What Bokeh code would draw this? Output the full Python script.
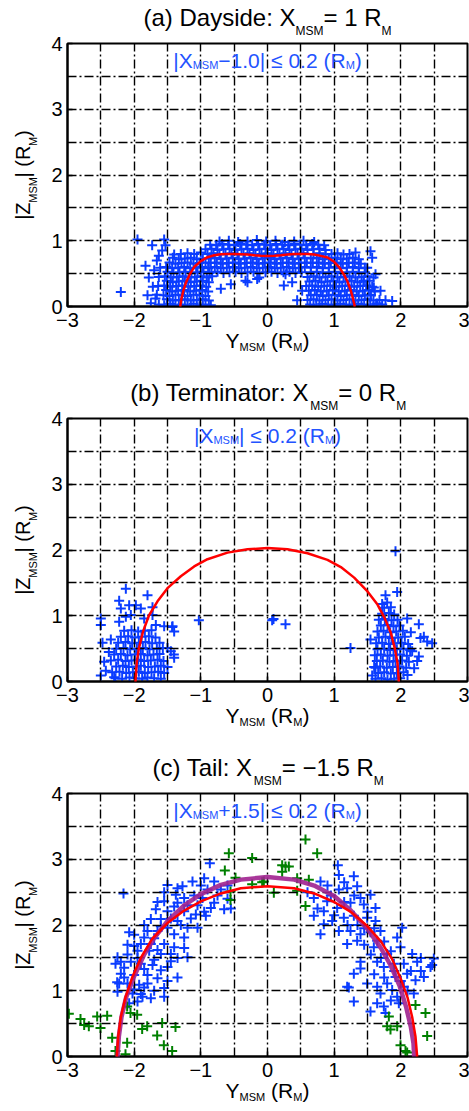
import math
from bokeh.plotting import figure
from bokeh.models import Range1d, FixedTicker, Label, LinearAxis
from bokeh.layouts import column
from bokeh.embed import file_html
from bokeh.resources import INLINE

# ---------------- data ----------------
# panel (a): |X_MSM - 1.0| <= 0.2
a_fringe = [(-1.95,1.02),(-1.55,1.02),(-1.73,0.93),(-1.53,0.93),(-1.63,0.77),(-1.83,0.62),(-2.2,0.22),
            (-1.8,0.17),(-1.78,0.44),(-1.7,0.55),(-1.72,0.3),(-1.75,0.05),(-1.68,0.12),(-1.66,0.7),(-1.58,0.85),
            (-0.70,0.27),(-0.55,0.34),(-0.30,0.37),(-0.125,0.44),(-0.33,0.39),(-0.155,0.42),
            (0.245,0.32),(0.37,0.37),(0.27,0.49),(0.52,0.24),(0.445,0.095),
            (1.545,0.84),(1.57,0.74),(1.495,0.59),(1.62,0.49),(1.445,0.39),(1.595,0.29),(1.695,0.24),
            (1.545,0.17),(1.77,0.095),(1.87,0.085),(1.645,0.045)]
a_left = [(-1.63,0.03),(-1.55,0.02),(-1.46,0.04),(-1.38,0.02),(-1.29,0.03),(-1.2,0.02),(-1.11,0.04),(-1.02,0.02),(-0.93,0.03),(-0.85,0.02),
          (-1.51,0.11),(-1.42,0.09),(-1.33,0.1),(-1.24,0.11),(-1.15,0.09),(-1.06,0.1),(-0.97,0.11),(-0.88,0.09),
          (-1.66,0.18),(-1.56,0.17),(-1.47,0.16),(-1.38,0.18),(-1.29,0.17),(-1.2,0.16),(-1.11,0.18),(-1.02,0.17),(-0.93,0.16),
          (-1.52,0.25),(-1.43,0.23),(-1.34,0.24),(-1.25,0.25),(-1.16,0.23),(-1.07,0.24),(-0.98,0.25),(-0.89,0.23),
          (-1.64,0.31),(-1.55,0.32),(-1.46,0.3),(-1.37,0.31),(-1.28,0.32),(-1.19,0.3),(-1.1,0.31),(-1.01,0.32),(-0.92,0.3),
          (-1.51,0.39),(-1.42,0.37),(-1.33,0.38),(-1.24,0.39),(-1.15,0.37),(-1.06,0.38),(-0.97,0.39),(-0.88,0.37),
          (-1.63,0.45),(-1.54,0.46),(-1.45,0.44),(-1.36,0.45),(-1.27,0.46),(-1.18,0.44),(-1.09,0.45),(-1.0,0.46),(-0.91,0.44),(-0.83,0.46),
          (-1.5,0.53),(-1.41,0.51),(-1.32,0.52),(-1.23,0.53),(-1.14,0.51),(-1.05,0.52),(-0.96,0.53),(-0.87,0.51),
          (-1.61,0.59),(-1.52,0.6),(-1.43,0.58),(-1.34,0.59),(-1.25,0.6),(-1.16,0.58),(-1.07,0.59),(-0.98,0.6),(-0.89,0.58),
          (-1.47,0.67),(-1.38,0.65),(-1.29,0.66),(-1.2,0.67),(-1.11,0.65),(-1.02,0.66),(-0.93,0.67),
          (-1.42,0.74),(-1.33,0.72),(-1.24,0.73),(-1.15,0.74),(-1.06,0.72),(-0.97,0.73),
          (-1.4,0.79),(-1.3,0.8),(-1.2,0.81),(-1.1,0.8),(-1.0,0.82)]
a_top = [(-0.84,0.52),(-0.75,0.53),(-0.66,0.51),(-0.57,0.52),(-0.48,0.53),(-0.39,0.51),(-0.3,0.52),(-0.21,0.53),(-0.12,0.51),(-0.03,0.52),(0.06,0.53),(0.15,0.51),(0.24,0.52),(0.33,0.53),(0.42,0.51),(0.51,0.52),
         (-0.88,0.59),(-0.79,0.6),(-0.7,0.58),(-0.61,0.59),(-0.52,0.6),(-0.43,0.58),(-0.34,0.59),(-0.25,0.6),(-0.16,0.58),(-0.07,0.59),(0.02,0.6),(0.11,0.58),(0.2,0.59),(0.29,0.6),(0.38,0.58),(0.47,0.59),(0.56,0.6),
         (-0.85,0.66),(-0.76,0.67),(-0.67,0.65),(-0.58,0.66),(-0.49,0.67),(-0.4,0.65),(-0.31,0.66),(-0.22,0.67),(-0.13,0.65),(-0.04,0.66),(0.05,0.67),(0.14,0.65),(0.23,0.66),(0.32,0.67),(0.41,0.65),(0.5,0.66),(0.59,0.67),
         (-0.88,0.73),(-0.79,0.74),(-0.7,0.72),(-0.61,0.73),(-0.52,0.74),(-0.43,0.72),(-0.34,0.73),(-0.25,0.74),(-0.16,0.72),(-0.07,0.73),(0.02,0.74),(0.11,0.72),(0.2,0.73),(0.29,0.74),(0.38,0.72),(0.47,0.73),(0.56,0.74),
         (-0.9,0.8),(-0.81,0.81),(-0.72,0.79),(-0.63,0.8),(-0.54,0.81),(-0.45,0.79),(-0.36,0.8),(-0.27,0.81),(-0.18,0.79),(-0.09,0.8),(0.0,0.81),(0.09,0.79),(0.18,0.8),(0.27,0.81),(0.36,0.79),(0.45,0.8),(0.54,0.81),
         (-0.93,0.87),(-0.84,0.88),(-0.75,0.86),(-0.66,0.87),(-0.57,0.88),(-0.48,0.86),(-0.39,0.87),(-0.3,0.88),(-0.21,0.86),(-0.12,0.87),(-0.03,0.88),(0.06,0.86),(0.15,0.87),(0.24,0.88),(0.33,0.86),(0.42,0.87),(0.51,0.88),(0.6,0.86),(0.69,0.87),(0.78,0.88),(0.87,0.86),
         (-0.86,0.94),(-0.77,0.93),(-0.68,0.95),(-0.59,0.94),(-0.5,0.93),(-0.41,0.95),(-0.32,0.94),(-0.23,0.93),(-0.14,0.95),(-0.05,0.94),(0.04,0.93),(0.13,0.95),(0.22,0.94),(0.31,0.93),(0.4,0.95),(0.49,0.94),(0.58,0.93),(0.67,0.95),(0.76,0.94),(0.85,0.93),
         (-0.72,0.99),(-0.58,1.0),(-0.44,0.98),(-0.3,0.99),(-0.16,1.01),(-0.02,0.99),(0.12,1.0),(0.26,0.98),(0.4,0.99),(0.54,1.0),(0.7,0.98)]
a_right = [(0.64,0.03),(0.73,0.02),(0.82,0.04),(0.91,0.03),(1.0,0.02),(1.09,0.04),(1.18,0.03),(1.27,0.02),(1.36,0.04),(1.45,0.03),(1.54,0.02),(1.63,0.04),(1.72,0.03),
           (0.6,0.1),(0.69,0.11),(0.78,0.09),(0.87,0.1),(0.96,0.11),(1.05,0.09),(1.14,0.1),(1.23,0.11),(1.32,0.09),(1.41,0.1),(1.5,0.11),(1.59,0.09),(1.68,0.1),
           (0.65,0.17),(0.74,0.18),(0.83,0.16),(0.92,0.17),(1.01,0.18),(1.1,0.16),(1.19,0.17),(1.28,0.18),(1.37,0.16),(1.46,0.17),(1.55,0.18),
           (0.62,0.24),(0.71,0.25),(0.8,0.23),(0.89,0.24),(0.98,0.25),(1.07,0.23),(1.16,0.24),(1.25,0.25),(1.34,0.23),(1.43,0.24),(1.52,0.25),(1.61,0.23),
           (0.58,0.31),(0.67,0.32),(0.76,0.3),(0.85,0.31),(0.94,0.32),(1.03,0.3),(1.12,0.31),(1.21,0.32),(1.3,0.3),(1.39,0.31),(1.48,0.32),(1.57,0.3),
           (0.63,0.38),(0.72,0.39),(0.81,0.37),(0.9,0.38),(0.99,0.39),(1.08,0.37),(1.17,0.38),(1.26,0.39),(1.35,0.37),(1.44,0.38),(1.53,0.39),
           (0.6,0.45),(0.69,0.46),(0.78,0.44),(0.87,0.45),(0.96,0.46),(1.05,0.44),(1.14,0.45),(1.23,0.46),(1.32,0.44),(1.41,0.45),(1.5,0.46),(1.59,0.44),
           (0.65,0.52),(0.74,0.53),(0.83,0.51),(0.92,0.52),(1.01,0.53),(1.1,0.51),(1.19,0.52),(1.28,0.53),(1.37,0.51),(1.46,0.52),
           (0.65,0.59),(0.74,0.6),(0.83,0.58),(0.92,0.59),(1.01,0.6),(1.1,0.58),(1.19,0.59),(1.28,0.6),(1.37,0.58),(1.46,0.59),
           (0.68,0.66),(0.77,0.67),(0.86,0.65),(0.95,0.66),(1.04,0.67),(1.13,0.65),(1.22,0.66),(1.31,0.67),(1.4,0.65),
           (0.65,0.73),(0.74,0.74),(0.83,0.72),(0.92,0.73),(1.01,0.74),(1.1,0.72),(1.19,0.73),(1.28,0.74),(1.37,0.72),
           (0.69,0.8),(0.78,0.81),(0.87,0.79),(0.96,0.8),(1.05,0.81),(1.14,0.79),(1.23,0.8),(1.32,0.82)]
a_curve_x = [-1.31,-1.29,-1.26,-1.22,-1.17,-1.1,-1.0,-0.9,-0.8,-0.7,-0.6,-0.5,-0.4,-0.3,-0.2,-0.1,0.0,
             0.1,0.2,0.3,0.4,0.5,0.6,0.7,0.8,0.9,1.0,1.08,1.15,1.2,1.25,1.28,1.31]
a_curve_y = [0.0,0.12,0.25,0.37,0.48,0.6,0.69,0.75,0.78,0.795,0.8,0.8,0.795,0.79,0.78,0.772,0.768,
             0.772,0.78,0.79,0.8,0.8,0.8,0.79,0.77,0.745,0.68,0.59,0.48,0.38,0.24,0.13,0.0]

# panel (b): |X_MSM| <= 0.2
b_left = [(-2.125,1.41),(-2.225,1.23),(-1.8,1.31),(-2.2,1.11),(-2.075,1.16),(-1.975,1.16),(-1.9,1.11),(-1.725,1.13),
          (-2.5,0.96),(-2.5,0.86),(-2.225,0.91),(-2.125,0.985),(-2.05,1.01),(-1.85,0.96),(-1.725,1.01),(-1.675,0.86),
          (-1.55,0.84),(-1.425,0.84),(-1.4,0.76),(-2.475,0.59),(-2.35,0.64),(-1.5,0.51),(-1.45,0.46),(-1.4,0.36),
          (-2.425,0.165),(-2.5,0.09),(-2.3,0.066),(-1.43,0.83),(-1.405,0.41),(-2.45,0.3),(-2.38,0.45),
          (-2.28,0.05),(-2.18,0.04),(-2.07,0.06),(-1.98,0.05),(-1.88,0.04),(-1.8,0.06),(-1.7,0.05),(-1.6,0.04),
          (-2.33,0.14),(-2.22,0.15),(-2.12,0.13),(-2.02,0.14),(-1.93,0.15),(-1.84,0.13),(-1.74,0.14),(-1.64,0.15),(-1.55,0.13),
          (-2.27,0.23),(-2.17,0.24),(-2.08,0.22),(-1.97,0.23),(-1.9,0.24),(-1.79,0.22),(-1.69,0.23),(-1.6,0.24),(-1.5,0.22),
          (-2.35,0.32),(-2.24,0.33),(-2.13,0.31),(-2.04,0.32),(-1.94,0.33),(-1.85,0.31),(-1.75,0.32),(-1.65,0.33),(-1.56,0.31),
          (-2.3,0.41),(-2.2,0.42),(-2.1,0.4),(-1.99,0.41),(-1.9,0.42),(-1.8,0.4),(-1.71,0.41),(-1.62,0.42),
          (-2.27,0.5),(-2.16,0.51),(-2.06,0.49),(-1.96,0.5),(-1.87,0.51),(-1.77,0.49),(-1.66,0.5),(-1.57,0.51),
          (-2.24,0.59),(-2.13,0.6),(-2.03,0.58),(-1.93,0.59),(-1.83,0.6),(-1.73,0.58),(-1.62,0.59),
          (-2.2,0.68),(-2.09,0.69),(-1.99,0.67),(-1.89,0.68),(-1.78,0.69),(-1.68,0.67),
          (-2.15,0.77),(-2.04,0.78),(-1.94,0.76),(-1.84,0.77),(-1.74,0.78)]
b_mid = [(-1.03,0.93),(0.07,0.93),(0.09,0.95),(0.27,0.87),(1.245,0.51)]
b_right = [(1.92,1.98),(1.945,1.36),(1.77,1.31),(1.72,1.18),(2.095,0.96),(2.27,0.87),(1.545,0.64),
           (2.395,0.61),(2.295,0.66),(2.17,0.46),(2.245,0.31),(1.57,0.09),(2.345,0.68),(2.47,0.58),(2.27,0.38),
           (1.795,1.2),(2.15,0.75),(2.2,0.2),(2.1,0.1),(1.62,0.21),
           (1.62,0.04),(1.71,0.05),(1.8,0.03),(1.9,0.04),(1.99,0.05),
           (1.66,0.13),(1.75,0.14),(1.85,0.12),(1.94,0.13),(2.04,0.14),
           (1.6,0.22),(1.69,0.23),(1.79,0.21),(1.88,0.22),(1.98,0.23),(2.08,0.21),
           (1.64,0.31),(1.73,0.32),(1.83,0.3),(1.92,0.31),(2.02,0.32),(2.12,0.3),
           (1.61,0.4),(1.7,0.41),(1.8,0.39),(1.89,0.4),(1.99,0.41),(2.09,0.39),
           (1.65,0.49),(1.75,0.5),(1.84,0.48),(1.94,0.49),(2.04,0.5),(2.14,0.48),
           (1.63,0.58),(1.72,0.59),(1.82,0.57),(1.91,0.58),(2.01,0.59),(2.11,0.57),
           (1.67,0.67),(1.77,0.68),(1.86,0.66),(1.96,0.67),(2.06,0.68),
           (1.65,0.76),(1.74,0.77),(1.84,0.75),(1.93,0.76),(2.03,0.77),
           (1.7,0.85),(1.8,0.86),(1.89,0.84),(1.98,0.85),
           (1.67,0.94),(1.76,0.95),(1.86,0.93),(1.95,0.94),
           (1.72,1.03),(1.82,1.04),(1.9,1.02),(1.75,1.12),(1.85,1.13)]
b_curve_x = [-1.98,-1.96,-1.93,-1.87,-1.78,-1.65,-1.5,-1.3,-1.1,-0.9,-0.6,-0.3,0.0,0.3,0.6,0.9,1.1,1.3,1.5,1.65,1.75,1.85,1.91,1.95,1.97]
b_curve_y = [0.0,0.3,0.5,0.75,1.0,1.22,1.42,1.6,1.75,1.86,1.96,2.01,2.03,2.01,1.95,1.85,1.74,1.58,1.37,1.17,0.98,0.74,0.5,0.28,0.0]

# panel (c): |X_MSM + 1.5| <= 0.2
c_blue = [(-0.865,2.94),(-2.16,2.48),(-1.5,2.61),(-1.35,2.56),(-1.275,2.59),(-1.125,2.66),(-0.95,2.71),(-0.8,2.66),
          (-0.7,2.54),(-0.9,2.54),(-1.375,2.46),(-1.25,2.41),(-1.55,2.36),(-1.35,2.34),(-0.975,2.41),(-0.8,2.34),
          (-0.65,2.24),(-0.85,2.26),(-1.675,2.24),(-1.5,2.21),(-1.25,2.21),(-1.075,2.16),(-0.925,2.14),(-1.75,2.09),
          (-1.6,2.09),(-1.35,2.06),(-1.5,1.96),(-1.2,1.96),(-1.05,1.96),(-1.8,1.91),(-1.65,1.91),(-1.4,1.86),
          (-1.25,1.81),(-2.075,1.89),(-1.85,1.81),(-1.9,1.71),(-1.75,1.71),(-1.55,1.71),(-1.4,1.66),(-1.95,1.61),
          (-1.775,1.61),(-1.6,1.56),(-1.45,1.56),(-1.2,1.51),(-2.25,1.51),(-2.2,1.44),(-2.05,1.44),(-1.9,1.41),
          (-1.725,1.39),(-1.6,1.31),(-1.5,1.36),(-2.2,1.26),(-2.0,1.24),(-1.8,1.24),(-1.65,1.19),(-2.225,1.11),
          (-2.1,1.11),(-1.925,1.09),(-1.8,1.11),(-2.25,0.985),(-2.025,0.96),(-1.875,0.91),(-1.95,0.835),(-1.75,0.885),
          (-1.55,0.91),(-1.55,1.04),(-2.075,0.81),
          (-2.28,1.41),(-2.255,1.13),(-2.15,1.35),(-2.1,1.55),(-2.0,1.68),(-1.95,1.5),(-1.85,1.33),(-1.7,1.47),
          (-1.65,1.62),(-1.7,1.8),(-1.6,1.98),(-1.45,2.1),(-1.4,2.28),(-1.2,2.3),(-1.1,2.45),(-1.0,2.6),(-0.75,2.45),
          (-0.6,2.4),(-1.55,2.5),(-1.45,1.45),(-1.35,1.2),(-1.5,1.15),(-1.7,1.0),(-1.85,1.05),(-2.0,1.02),(-1.9,0.95),
          (-2.15,1.2),(-1.3,2.0),(-1.15,2.1),(-1.05,2.3),(-1.25,1.65),(-1.35,1.5),(-0.55,2.25),(-0.6,2.6),(-0.95,2.2),
          (-1.65,2.35),(-1.85,2.0),(-2.0,1.85),(-2.1,1.7),
          (1.055,2.91),(1.07,2.76),(1.295,2.74),(0.795,2.66),(0.695,2.41),(0.895,2.36),(1.07,2.54),(1.195,2.56),
          (1.345,2.59),(1.395,2.41),(1.545,2.46),(1.62,2.26),(1.445,2.31),(1.245,2.34),(1.045,2.26),(0.845,2.21),
          (0.695,2.14),(0.845,2.01),(0.97,2.06),(1.145,2.11),(1.295,2.14),(1.495,2.11),(1.62,2.06),(1.07,1.91),
          (1.245,1.91),(1.395,1.86),(1.545,1.89),(0.795,1.86),(1.195,1.71),(1.345,1.76),(1.595,1.66),(1.645,1.76),
          (1.695,1.91),(1.945,1.81),(2.02,1.96),(1.995,1.66),(1.795,1.56),(2.17,1.56),(1.395,1.44),(1.395,1.34),
          (1.295,1.26),(1.645,1.44),(1.745,1.36),(1.895,1.41),(2.045,1.41),(2.245,1.44),(2.47,1.39),(2.495,1.49),
          (2.345,1.21),(2.22,1.16),(2.095,1.26),(1.92,1.21),(1.795,1.11),(1.645,1.06),(1.495,1.11),(1.695,0.96),
          (1.87,1.01),(2.045,1.06),(2.195,0.96),(1.945,0.91),(1.195,1.06),(1.295,0.835),(1.545,0.685),(1.645,0.81),
          (1.745,0.76),(1.77,0.66),(1.97,0.81),(2.445,1.36),(1.22,1.05),
          (0.6,2.5),(0.75,2.25),(0.95,2.45),(1.15,2.35),(1.3,2.45),(1.5,2.2),(1.35,2.0),(1.2,2.0),(1.45,1.7),
          (1.55,1.55),(1.7,1.5),(1.85,1.6),(1.9,1.3),(2.0,1.15),(2.15,1.3),(2.3,1.3),(1.75,1.2),(1.6,1.25),
          (1.85,0.85),(2.1,1.0),(1.0,2.15),(1.6,1.95),(1.75,1.75),(1.45,1.95),(0.9,2.6),(1.15,2.65),(2.3,1.5)]
c_green = [(0.57,3.30),(0.745,3.09),(-0.58,3.09),(-0.23,3.02),(-0.64,2.83),(-0.48,2.72),(-0.23,2.62),(-0.08,2.65),
           (-0.555,2.51),(-0.555,2.38),(0.095,2.49),(0.22,2.91),(0.27,2.89),(0.32,2.89),(0.22,2.81),(0.445,2.71),
           (0.62,2.69),(0.57,2.29),(0.445,2.52),(-0.055,2.66),
           (-2.98,0.65),(-2.805,0.57),(-2.68,0.46),(-2.505,0.435),(-2.555,0.61),(-2.405,0.62),(-2.33,0.285),
           (-2.105,0.21),(-2.055,0.66),(-1.955,0.635),(-1.805,0.46),(-1.88,0.42),(-1.655,0.32),(-1.555,0.17),
           (-1.43,0.085),(-1.58,0.51),(-1.38,0.45),(-2.105,0.76),(-2.28,0.085),(-2.13,0.035),(-2.75,0.48),
           (1.82,0.61),(1.795,0.46),(1.945,0.46),(2.22,0.785),(2.37,0.66),(2.395,0.31),(1.995,0.17),(2.07,0.085),
           (1.845,0.41),(2.095,0.06)]
c_purple_x = [-2.25,-2.23,-2.19,-2.12,-2.0,-1.85,-1.7,-1.5,-1.25,-1.0,-0.7,-0.4,0.0,0.4,0.7,1.0,1.25,1.5,1.7,1.85,1.98,2.08,2.15,2.19,2.2]
c_purple_y = [0.0,0.3,0.6,0.9,1.22,1.55,1.8,2.06,2.3,2.47,2.61,2.69,2.73,2.69,2.6,2.44,2.22,1.94,1.65,1.38,1.08,0.75,0.45,0.2,0.0]
c_red_x = [-2.26,-2.24,-2.2,-2.13,-2.03,-1.9,-1.73,-1.5,-1.25,-1.0,-0.7,-0.4,0.0,0.4,0.7,1.0,1.25,1.5,1.7,1.87,2.0,2.1,2.17,2.22,2.245]
c_red_y = [0.0,0.3,0.6,0.9,1.2,1.5,1.79,2.03,2.22,2.36,2.48,2.56,2.59,2.56,2.48,2.35,2.2,1.98,1.75,1.48,1.18,0.9,0.6,0.3,0.0]

x_ticks = [-3, -2, -1, 0, 1, 2, 3]
y_ticks = [0, 1, 2, 3, 4]
x_grid = [-2.5, -2, -1.5, -1, -0.5, 0, 0.5, 1, 1.5, 2, 2.5]
y_grid = [0.5, 1, 1.5, 2, 2.5, 3, 3.5]

titles = [
    [("(a) Dayside: X", False), ("MSM", True), ("= 1 R", False), ("M", True)],
    [("(b) Terminator: X", False), ("MSM", True), ("= 0 R", False), ("M", True)],
    [("(c) Tail: X", False), ("MSM", True), ("= \u22121.5 R", False), ("M", True)],
]
notes = [
    [("|X", False), ("MSM", True), ("\u22121.0| \u2264 0.2 (R", False), ("M", True), (")", False)],
    [("|X", False), ("MSM", True), ("| \u2264 0.2 (R", False), ("M", True), (")", False)],
    [("|X", False), ("MSM", True), ("+1.5| \u2264 0.2 (R", False), ("M", True), (")", False)],
]
ylabel = [("|Z", False), ("MSM", True), ("| (R", False), ("M", True), (")", False)]
xlabel = [("Y", False), ("MSM", True), (" (R", False), ("M", True), (")", False)]

BLUE = "#0a3cff"
TXTBLUE = "#2353ff"
GREEN = "#008000"
RED = "#ff0000"
PURPLE = "#a0228f"
FONT = "Liberation Sans"
PXX = 400 / 6.0   # px per x unit
PXY = 267 / 4.0   # px per y unit

AW = {' ':278,'(':333,')':333,'a':556,'b':556,'c':500,'D':722,'y':500,'s':500,'i':222,'d':556,'e':556,
      ':':278,'X':667,'=':584,'1':556,'0':556,'5':556,'2':556,'R':722,'M':833,'S':667,'T':611,'r':333,
      'm':833,'n':556,'t':278,'o':556,'l':222,'.':278,'\u2212':584,'+':584,'|':260,'\u2264':549,'Y':667,'Z':611}


def tw(s, fs):
    return sum(AW.get(c, 556) for c in s) * fs / 1000.0


def layout_pieces(pieces, fs, sfs):
    """pixel offsets (from centre) of the centre of every piece"""
    total = sum(tw(t, sfs if s else fs) for t, s in pieces)
    cur = -total / 2.0
    out = []
    for t, s in pieces:
        f = sfs if s else fs
        lead = tw(t[:len(t) - len(t.lstrip())], f)
        txt = t.strip()
        out.append((txt, s, cur + lead + tw(txt, f) / 2.0))
        cur += tw(t, f)
    return out


def text_axis(p, side, entries, size, standoff, color="black"):
    ticks = [round(v, 4) for v, _ in entries]
    ax = LinearAxis(ticker=FixedTicker(ticks=ticks),
                    major_label_overrides={round(v, 4): t for v, t in entries})
    ax.axis_line_color = None
    ax.major_tick_line_color = None
    ax.minor_tick_line_color = None
    ax.major_tick_in = 0
    ax.major_tick_out = 0
    ax.major_label_text_font = FONT
    ax.major_label_text_font_size = f"{size}px"
    ax.major_label_text_color = color
    ax.major_label_standoff = standoff
    if side in ("left", "right"):
        ax.major_label_orientation = "parallel"
    p.add_layout(ax, side)


def rich_axes(p, side, pieces, centre, scale, fs, sfs, so_first, so_second, first_is_sub):
    lay = layout_pieces(pieces, fs, sfs)
    main = [(centre + off / scale, t) for t, s, off in lay if not s]
    sub = [(centre + off / scale, t) for t, s, off in lay if s]
    if first_is_sub:
        text_axis(p, side, sub, sfs, so_first)
        text_axis(p, side, main, fs, so_second)
    else:
        text_axis(p, side, main, fs, so_first)
        text_axis(p, side, sub, sfs, so_second)


def rich_label(p, pieces, x, y, dx, dy, color, fs, sfs, drop):
    for txt, s, off in layout_pieces(pieces, fs, sfs):
        f = sfs if s else fs
        w = tw(txt, f)
        p.add_layout(Label(x=x, y=y, x_offset=dx + off - w / 2.0, y_offset=dy - (drop if s else 0),
                           text=txt, text_font=FONT, text_font_size=f"{f}px", text_color=color,
                           text_align="left", text_baseline="alphabetic"))


def make_panel(i, height, top, bottom):
    p = figure(width=469, height=height, x_range=Range1d(-3, 3), y_range=Range1d(0, 4),
               output_backend="svg", toolbar_location=None,
               min_border_left=67, min_border_right=2, min_border_top=top, min_border_bottom=bottom)
    p.background_fill_color = "white"
    p.border_fill_color = "white"
    p.outline_line_color = "black"
    p.outline_line_width = 2
    for ax, ticks in ((p.xaxis[0], x_ticks), (p.yaxis[0], y_ticks)):
        ax.ticker = FixedTicker(ticks=ticks)
        ax.major_tick_in = 5
        ax.major_tick_out = 0
        ax.minor_tick_line_color = None
        ax.major_tick_line_color = "black"
        ax.major_tick_line_width = 1.5
        ax.axis_line_color = "black"
        ax.axis_line_width = 2
        ax.major_label_text_font = FONT
        ax.major_label_text_font_size = "20px"
        ax.major_label_text_color = "black"
    p.xaxis[0].major_label_standoff = 6
    p.yaxis[0].major_label_standoff = 5
    p.xaxis[0].major_label_overrides = {-3: "\u22123", -2: "\u22122", -1: "\u22121"}
    p.xgrid.ticker = FixedTicker(ticks=x_grid)
    p.ygrid.ticker = FixedTicker(ticks=y_grid)
    for g in (p.xgrid, p.ygrid):
        g.grid_line_color = "black"
        g.grid_line_width = 1.4
        g.grid_line_dash = "9 3 2 3"
        g.level = "guide"
    # title above the frame (subscripts on the row next to the frame)
    rich_axes(p, "above", titles[i], 0.0, PXX, 24, 12, 6, -10, True)
    # y label on the left
    rich_axes(p, "left", ylabel, 2.0, PXY, 20, 11, 9, -10, True)
    # x label below
    rich_axes(p, "below", xlabel, 0.0, PXX, 21, 11, -1, -14, False)
    # selection note inside the frame
    rich_label(p, notes[i], 0, 4, 0, -17, TXTBLUE, 21, 11, 4)
    return p


def crosses(p, lst, color):
    xs = [q[0] for q in lst]
    ys = [q[1] for q in lst]
    p.scatter(xs, ys, marker="cross", size=10, line_color=color, line_width=2)


pa = make_panel(0, 375, 39, 69)
for lst in (a_left, a_top, a_right, a_fringe):
    crosses(pa, lst, BLUE)
r = pa.line(a_curve_x, a_curve_y, line_color=RED, line_width=2.5)
r.level = "overlay"

pb = make_panel(1, 375, 39, 69)
for lst in (b_left, b_mid, b_right):
    crosses(pb, lst, BLUE)
r = pb.line(b_curve_x, b_curve_y, line_color=RED, line_width=2.5)
r.level = "overlay"

pc = make_panel(2, 361, 39, 55)
crosses(pc, c_blue, BLUE)
crosses(pc, c_green, GREEN)
r = pc.line(c_purple_x, c_purple_y, line_color=PURPLE, line_width=4.5, line_alpha=0.9)
r.level = "overlay"
r = pc.line(c_red_x, c_red_y, line_color=RED, line_width=2.5)
r.level = "overlay"

layout = column(pa, pb, pc, spacing=0)
open("out.html", "w").write(file_html(layout, INLINE))
